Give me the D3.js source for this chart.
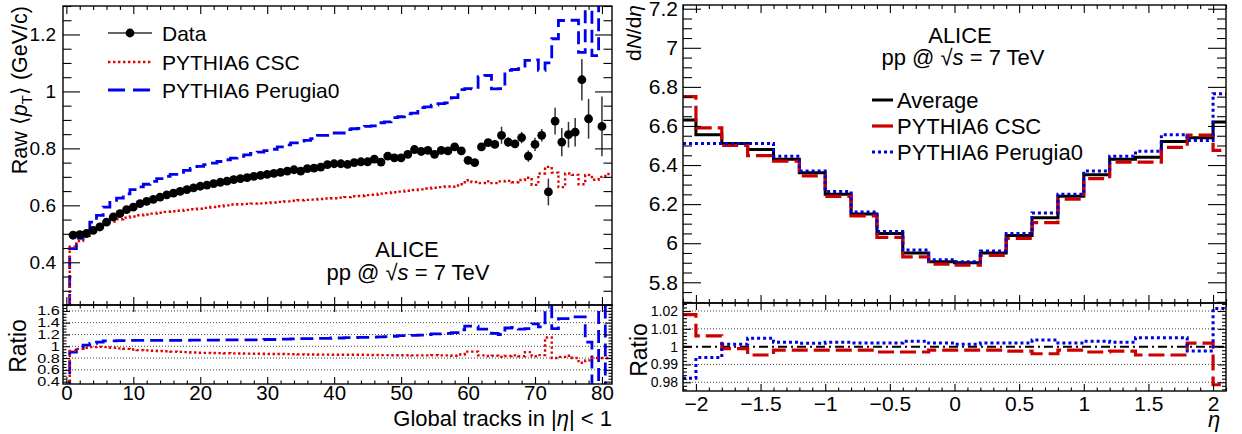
<!DOCTYPE html>
<html><head><meta charset="utf-8">
<script src="https://cdn.jsdelivr.net/npm/d3@7"></script>
<style>body{margin:0;background:#fff}svg{display:block}</style>
</head><body><svg id="c" width="1242" height="434"></svg>
<script>
// ---------------- LEFT: raw <pT> vs multiplicity ----------------
const dataN = [1,2,3,4,5,6,7,8,9,10,11,12,13,14,15,16,17,18,19,20,21,22,23,24,25,26,27,28,29,30,31,32,33,34,35,36,37,38,39,40,41,42,43,44,45,46,47,48,49,50,51,52,53,54,55,56,57,58,59,60,61,62,63,64,65,66,67,68,69,70,71,72,73,74,75,76,77,78,79,80];
const dataMean = [0.495,0.497,0.501,0.512,0.524,0.541,0.559,0.571,0.585,0.594,
 0.606,0.614,0.621,0.629,0.637,0.643,0.649,0.655,0.661,0.667,
 0.671,0.676,0.681,0.685,0.690,0.694,0.697,0.702,0.705,0.709,
 0.712,0.716,0.720,0.725,0.720,0.729,0.731,0.734,0.743,0.746,
 0.746,0.744,0.750,0.753,0.753,0.762,0.752,0.773,0.767,0.767,
 0.779,0.796,0.789,0.793,0.779,0.793,0.791,0.805,0.791,0.758,
 0.750,0.805,0.820,0.814,0.846,0.822,0.816,0.838,0.773,0.814,
 0.846,0.647,0.896,0.822,0.848,0.857,1.041,0.904,null,0.877];
const dataErr = [0.002,0.002,0.002,0.002,0.002,0.002,0.002,0.002,0.002,0.002,
 0.002,0.002,0.002,0.002,0.002,0.002,0.002,0.002,0.002,0.002,
 0.002,0.002,0.002,0.002,0.002,0.002,0.002,0.002,0.002,0.002,
 0.003,0.003,0.003,0.003,0.003,0.003,0.003,0.003,0.003,0.003,
 0.004,0.004,0.004,0.004,0.004,0.004,0.004,0.004,0.004,0.004,
 0.005,0.005,0.005,0.006,0.006,0.006,0.007,0.008,0.008,0.008,
 0.009,0.010,0.010,0.012,0.030,0.017,0.012,0.020,0.020,0.023,
 0.022,0.047,0.047,0.050,0.045,0.050,0.073,0.070,null,0.105];
const modelBins = [0,1,2,3,4,5,6,7,8,9,10,11,12,13,14,15,16,17,18,19,20,21,22,23,24,25,26,27,28,29,30,31,32,33,34,35,36,37,38,39,40,41,42,43,44,45,46,47,48,49,50,51,52,53,54,55,56,57,58,59,60,61,62,63,64,65,66,67,68,69,70,71,72,73,74,75,76,77,78,79,80,81];
const perugiaMean = [0,
 0.448,0.484,0.512,0.541,0.565,0.594,0.610,0.625,0.640,0.655,
 0.665,0.674,0.684,0.694,0.702,0.709,0.716,0.723,0.730,0.737,
 0.743,0.748,0.754,0.760,0.766,0.772,0.777,0.782,0.787,0.792,
 0.797,0.805,0.812,0.819,0.826,0.828,0.834,0.846,0.846,0.854,
 0.854,0.866,0.869,0.870,0.877,0.879,0.890,0.893,0.908,0.911,
 0.921,0.924,0.943,0.946,0.952,0.957,0.960,0.978,1.006,1.010,
 1.009,1.052,1.056,1.009,1.010,1.074,1.077,1.080,1.109,1.111,
 1.074,1.100,1.185,1.249,1.250,1.250,1.137,1.350,1.126,1.350,1.350];
const cscMean = [0,
 0.455,0.475,0.493,0.508,0.520,0.532,0.543,0.551,0.557,0.561,
 0.565,0.568,0.571,0.574,0.577,0.579,0.581,0.584,0.586,0.588,
 0.591,0.594,0.597,0.600,0.603,0.604,0.605,0.606,0.607,0.608,
 0.610,0.612,0.614,0.616,0.618,0.619,0.620,0.622,0.624,0.625,
 0.627,0.629,0.632,0.633,0.636,0.637,0.641,0.643,0.646,0.648,
 0.651,0.654,0.656,0.659,0.662,0.664,0.666,0.665,0.674,0.688,
 0.682,0.678,0.684,0.678,0.684,0.686,0.681,0.689,0.697,0.672,
 0.712,0.735,0.715,0.664,0.712,0.707,0.674,0.707,0.690,0.700,0.710];
const perugiaRatio = [0,
 0.90,0.97,1.02,1.05,1.07,1.09,1.09,1.095,1.095,1.10,
 1.10,1.10,1.10,1.10,1.10,1.10,1.10,1.10,1.105,1.105,
 1.105,1.105,1.105,1.11,1.11,1.11,1.11,1.11,1.11,1.115,
 1.115,1.12,1.12,1.125,1.13,1.13,1.13,1.135,1.135,1.14,
 1.14,1.145,1.145,1.15,1.15,1.155,1.16,1.165,1.17,1.18,
 1.18,1.185,1.19,1.20,1.21,1.21,1.22,1.23,1.28,1.34,
 1.34,1.29,1.29,1.22,1.20,1.31,1.32,1.29,1.30,1.38,
 1.33,1.80,1.30,1.47,1.47,1.50,1.50,1.07,0.20,1.80,0.20];
const cscRatio = [0,
 0.92,0.955,0.975,0.985,0.99,0.985,0.975,0.965,0.955,0.945,
 0.935,0.93,0.925,0.92,0.915,0.91,0.905,0.90,0.895,0.89,
 0.888,0.886,0.884,0.882,0.88,0.878,0.876,0.874,0.872,0.87,
 0.87,0.868,0.866,0.864,0.862,0.86,0.86,0.858,0.858,0.856,
 0.856,0.856,0.855,0.855,0.854,0.852,0.85,0.85,0.848,0.848,
 0.848,0.846,0.846,0.845,0.85,0.846,0.845,0.84,0.86,0.91,
 0.91,0.845,0.835,0.84,0.82,0.835,0.845,0.83,0.90,0.83,
 0.85,1.15,0.80,0.82,0.84,0.80,0.72,0.76,0.80,0.80,0.80];
const leftYTicks = [0.4,0.6,0.8,1.0,1.2];
const leftYLabels = ["0.4","0.6","0.8","1","1.2"];
const leftRTicks = [0.4,0.6,0.8,1.0,1.2,1.4,1.6];
const leftRLabels = ["0.4","0.6","0.8","1","1.2","1.4","1.6"];
const leftXTicks = [0,10,20,30,40,50,60,70,80];
const leftXLabels = ["0","10","20","30","40","50","60","70","80"];
const leftLegend = ["Data","PYTHIA6 CSC","PYTHIA6 Perugia0"];

// ---------------- RIGHT: dN/deta ----------------
const etaEdges = [-2.1,-2.0,-1.8,-1.6,-1.4,-1.2,-1.0,-0.8,-0.6,-0.4,-0.2,0,0.2,0.4,0.6,0.8,1.0,1.2,1.4,1.6,1.8,2.0,2.1];
const avgVals = [6.63,6.555,6.51,6.48,6.43,6.36,6.25,6.15,6.05,5.95,5.905,5.90,5.95,6.04,6.13,6.24,6.35,6.43,6.44,6.52,6.54,6.62];
const cscVals = [6.75,6.59,6.50,6.448,6.42,6.345,6.24,6.14,6.03,5.93,5.893,5.888,5.938,6.025,6.105,6.225,6.33,6.415,6.415,6.49,6.553,6.475];
const perVals = [6.51,6.51,6.51,6.51,6.445,6.37,6.265,6.16,6.06,5.965,5.915,5.905,5.96,6.05,6.155,6.25,6.37,6.445,6.47,6.555,6.525,6.765];
const cscRatioEta = [1.018,1.0061,0.9989,0.9953,0.998,0.998,0.998,0.998,0.997,0.997,0.998,0.998,0.998,0.9975,0.996,0.998,0.997,0.9975,0.9953,0.9953,1.002,0.9786];
const perRatioEta = [0.9823,0.9939,1.0013,1.0047,1.0024,1.0019,1.0024,1.002,1.002,1.003,1.002,1.0013,1.002,1.002,1.0037,1.002,1.003,1.0024,1.005,1.005,0.9976,1.0214];
const rightYTicks = [5.8,6.0,6.2,6.4,6.6,6.8,7.0,7.2];
const rightYLabels = ["5.8","6","6.2","6.4","6.6","6.8","7","7.2"];
const rightRTicks = [0.98,0.99,1.0,1.01,1.02];
const rightRLabels = ["0.98","0.99","1","1.01","1.02"];
const rightXTicks = [-2,-1.5,-1,-0.5,0,0.5,1,1.5,2];
const rightXLabels = ["\u22122","\u22121.5","\u22121","\u22120.5","0","0.5","1","1.5","2"];
const rightLegend = ["Average","PYTHIA6 CSC","PYTHIA6 Perugia0"];

// ---------------- drawing ----------------
const FONT = '"Liberation Sans", Arial, Helvetica, sans-serif';
const svg = d3.select("#c");
const RED_L = "#e00000", BLUE = "#0000ee", RED_R = "#cc0000";

function clip(id, x, y) {
  const [x0,x1] = x.range(), [y0,y1] = y.range();
  svg.append("clipPath").attr("id", id).append("rect")
    .attr("x", x0).attr("y", y1).attr("width", x1-x0).attr("height", y0-y1);
  return `url(#${id})`;
}
function axesBox(x, y, o) {
  const g = svg.append("g");
  const [xa, xb] = x.range(), [ya, yb] = y.range();
  const mk = (axis, tr) => {
    const a = g.append("g").attr("transform", tr).call(axis);
    a.select(".domain").remove();
    a.selectAll("line").attr("stroke", "#000").attr("stroke-width", 1.1);
    a.selectAll("text").attr("font-size", o.fs).attr("fill", "#000").attr("font-family", FONT);
    return a;
  };
  const lab = (vals, labs) => d => labs[vals.indexOf(d)];
  const [d0, d1] = y.domain();
  const yMin = d3.range(Math.ceil(d0/o.yStep - 1e-6)*o.yStep, d1 + 1e-9, o.yStep).filter(v => !o.yMaj.some(m => Math.abs(m - v) < 1e-6));
  const [e0, e1] = x.domain();
  const xMin = d3.range(Math.ceil(e0/o.xStep - 1e-6)*o.xStep, e1 + 1e-9, o.xStep).filter(v => !o.xMaj.some(m => Math.abs(m - v) < 1e-6));
  const ly = mk(d3.axisLeft(y).tickValues(o.yMaj).tickSize(-o.yL).tickPadding(o.yPad).tickFormat(lab(o.yMaj, o.yLab)), `translate(${xa},0)`);
  if (o.ySX) ly.selectAll("text").attr("transform", `scale(${o.ySX},1)`);
  mk(d3.axisLeft(y).tickValues(yMin).tickSize(-o.yL/2).tickFormat(""), `translate(${xa},0)`);
  mk(d3.axisRight(y).tickValues(o.yMaj).tickSize(-o.yL).tickFormat(""), `translate(${xb},0)`);
  mk(d3.axisRight(y).tickValues(yMin).tickSize(-o.yL/2).tickFormat(""), `translate(${xb},0)`);
  const bx = mk(d3.axisBottom(x).tickValues(o.xMaj).tickSize(-o.xL).tickPadding(o.xPad).tickFormat(o.xLab ? lab(o.xMaj, o.xLab) : ""), `translate(0,${ya})`);
  if (o.xfs) bx.selectAll("text").attr("font-size", o.xfs);
  mk(d3.axisBottom(x).tickValues(xMin).tickSize(-o.xL/2).tickFormat(""), `translate(0,${ya})`);
  mk(d3.axisTop(x).tickValues(o.xMaj).tickSize(-o.xL).tickFormat(""), `translate(0,${yb})`);
  mk(d3.axisTop(x).tickValues(xMin).tickSize(-o.xL/2).tickFormat(""), `translate(0,${yb})`);
  g.append("rect").attr("x", xa).attr("y", yb).attr("width", xb-xa).attr("height", ya-yb)
    .attr("fill", "none").attr("stroke", "#000").attr("stroke-width", 1.4);
}
function stepPts(edges, vals) {
  const p = vals.map((v, i) => [edges[i], v]);
  p.push([edges[vals.length], vals[vals.length-1]]);
  return p;
}
function stepPath(g, x, y, edges, vals, color, width, dash, cp) {
  const line = d3.line().x(d => x(d[0])).y(d => y(d[1])).curve(d3.curveStepAfter);
  g.append("path").attr("d", line(stepPts(edges, vals))).attr("fill", "none")
    .attr("stroke", color).attr("stroke-width", width).attr("stroke-dasharray", dash)
    .attr("clip-path", cp);
}
function txt(x, y, s, size, anchor) {
  return svg.append("text").attr("x", x).attr("y", y).attr("font-family", FONT)
    .attr("font-size", size).attr("text-anchor", anchor || "start").attr("fill", "#000").text(s);
}

// ===== Left panel =====
const xL = d3.scaleLinear().domain([-0.5, 81.5]).range([63, 612]);
const yL = d3.scaleLinear().domain([0.25, 1.3]).range([305, 6]);
const yLR = d3.scaleLinear().domain([0.36, 1.7]).range([384, 305]);
const mEdges = modelBins.map(b => b - 0.5).concat([modelBins[modelBins.length-1] + 0.5]);

const gL = svg.append("g");
const cpL = clip("cpL", xL, yL);
stepPath(gL, xL, yL, mEdges, perugiaMean, BLUE, 2.8, "13,6", cpL);
stepPath(gL, xL, yL, mEdges, cscMean, RED_L, 2.4, "2.4,2.6", cpL);
const pts = dataN.map((n, i) => ({n, v: dataMean[i], e: dataErr[i]})).filter(d => d.v != null);
gL.append("g").attr("clip-path", cpL).selectAll("line").data(pts).join("line")
  .attr("x1", d => xL(d.n)).attr("x2", d => xL(d.n))
  .attr("y1", d => yL(d.v - d.e)).attr("y2", d => yL(d.v + d.e))
  .attr("stroke", "#333").attr("stroke-width", 1.5);
gL.append("g").selectAll("circle").data(pts).join("circle")
  .attr("cx", d => xL(d.n)).attr("cy", d => yL(d.v)).attr("r", 4.4).attr("fill", "#000");
axesBox(xL, yL, {yMaj: leftYTicks, yLab: leftYLabels, yStep: 0.05, yL: 17, yPad: 7, fs: 19,
  xMaj: leftXTicks, xLab: null, xStep: 2, xL: 8, xPad: 0});

// left ratio
const gLR = svg.append("g");
const cpLR = clip("cpLR", xL, yLR);
gLR.selectAll("line").data(leftRTicks.slice(1)).join("line")
  .attr("x1", 63).attr("x2", 612).attr("y1", d => yLR(d)).attr("y2", d => yLR(d))
  .attr("stroke", "#444").attr("stroke-width", 1).attr("stroke-dasharray", "1,2");
stepPath(gLR, xL, yLR, mEdges, perugiaRatio, BLUE, 2.8, "13,6", cpLR);
stepPath(gLR, xL, yLR, mEdges, cscRatio, RED_L, 2.4, "2.4,2.6", cpLR);
axesBox(xL, yLR, {yMaj: leftRTicks, yLab: leftRLabels, yStep: 0.05, yL: 7, yPad: 2.5, fs: 12.5, ySX: 1.3,
  xMaj: leftXTicks, xLab: leftXLabels, xStep: 2, xL: 7, xPad: 1.5, xfs: 20.5});

// left texts
const tyL = svg.append("text").attr("transform", "translate(27,6) rotate(-90)")
  .attr("text-anchor", "end").attr("font-family", FONT).attr("font-size", 21.5).attr("fill", "#000");
tyL.append("tspan").text("Raw \u27e8");
tyL.append("tspan").attr("font-style", "italic").text("p");
tyL.append("tspan").attr("font-size", 15).attr("dy", 5).text("T");
tyL.append("tspan").attr("dy", -5).text("\u27e9 (GeV/c)");
svg.append("text").attr("transform", "translate(26,346) rotate(-90)").attr("text-anchor", "middle")
  .attr("font-family", FONT).attr("font-size", 23).attr("fill", "#000").text("Ratio");
const xtL = txt(612, 426, "", 22, "end");
xtL.append("tspan").text("Global tracks in |");
xtL.append("tspan").attr("font-style", "italic").text("\u03b7");
xtL.append("tspan").text("| < 1");
txt(407, 257, "ALICE", 22, "middle");
function ppText(x, y, size) {
  const t = txt(x, y, "", size, "middle");
  t.append("tspan").text("pp @ \u221a");
  t.append("tspan").attr("font-style", "italic").text("s");
  t.append("tspan").text(" = 7 TeV");
}
ppText(408, 280, 22);

// left legend
const lgY = [33, 62, 90];
svg.append("line").attr("x1", 108).attr("x2", 152).attr("y1", lgY[0]).attr("y2", lgY[0]).attr("stroke", "#333").attr("stroke-width", 1.5);
svg.append("circle").attr("cx", 130).attr("cy", lgY[0]).attr("r", 4.4).attr("fill", "#000");
svg.append("line").attr("x1", 108).attr("x2", 152).attr("y1", lgY[1]).attr("y2", lgY[1]).attr("stroke", RED_L).attr("stroke-width", 2.4).attr("stroke-dasharray", "2.4,2.6");
svg.append("line").attr("x1", 108).attr("x2", 152).attr("y1", lgY[2]).attr("y2", lgY[2]).attr("stroke", BLUE).attr("stroke-width", 2.8).attr("stroke-dasharray", "17,8");
leftLegend.forEach((s, i) => txt(162, lgY[i] + 7.5, s, 21));

// ===== Right panel =====
const xR = d3.scaleLinear().domain([-2.1, 2.1]).range([683, 1226]);
const yR = d3.scaleLinear().domain([5.694, 7.219]).range([303, 5]);
const yRR = d3.scaleLinear().domain([0.9751, 1.0245]).range([391, 303]);
const gR = svg.append("g");
const cpR = clip("cpR", xR, yR);
stepPath(gR, xR, yR, etaEdges, avgVals, "#000", 3, null, cpR);
stepPath(gR, xR, yR, etaEdges, cscVals, RED_R, 3.2, "16,6", cpR);
stepPath(gR, xR, yR, etaEdges, perVals, "#0000dd", 3, "3,3", cpR);
axesBox(xR, yR, {yMaj: rightYTicks, yLab: rightYLabels, yStep: 0.05, yL: 18, yPad: 5, fs: 21,
  xMaj: rightXTicks, xLab: null, xStep: 0.1, xL: 8, xPad: 0});

const gRR = svg.append("g");
const cpRR = clip("cpRR", xR, yRR);
gRR.selectAll("line.g").data(rightRTicks.filter(v => v !== 1.0)).join("line")
  .attr("x1", 683).attr("x2", 1226).attr("y1", d => yRR(d)).attr("y2", d => yRR(d))
  .attr("stroke", "#444").attr("stroke-width", 1).attr("stroke-dasharray", "1,2");
gRR.append("line").attr("x1", 683).attr("x2", 1226).attr("y1", yRR(1)).attr("y2", yRR(1))
  .attr("stroke", "#000").attr("stroke-width", 2).attr("stroke-dasharray", "9,4,2,4");
stepPath(gRR, xR, yRR, etaEdges, cscRatioEta, RED_R, 3.2, "16,6", cpRR);
stepPath(gRR, xR, yRR, etaEdges, perRatioEta, "#0000dd", 3, "3,3", cpRR);
axesBox(xR, yRR, {yMaj: rightRTicks, yLab: rightRLabels, yStep: 0.002, yL: 8, yPad: 5, fs: 14,
  xMaj: rightXTicks, xLab: rightXLabels, xStep: 0.1, xL: 7, xPad: 5, xfs: 21});

// right texts
const tyR = svg.append("text").attr("transform", "translate(641,5) rotate(-90)")
  .attr("text-anchor", "end").attr("font-family", FONT).attr("font-size", 21).attr("fill", "#000");
tyR.append("tspan").text("d");
tyR.append("tspan").attr("font-style", "italic").text("N");
tyR.append("tspan").text("/d");
tyR.append("tspan").attr("font-style", "italic").text("\u03b7");
svg.append("text").attr("transform", "translate(647,350) rotate(-90)").attr("text-anchor", "middle")
  .attr("font-family", FONT).attr("font-size", 23).attr("fill", "#000").text("Ratio");
txt(1214, 427, "\u03b7", 22, "middle").attr("font-style", "italic");
txt(960, 43, "ALICE", 22, "middle");
ppText(963, 65, 22);
const rgY = [100, 126, 152];
svg.append("line").attr("x1", 872).attr("x2", 893).attr("y1", rgY[0]).attr("y2", rgY[0]).attr("stroke", "#000").attr("stroke-width", 3);
svg.append("line").attr("x1", 872).attr("x2", 893).attr("y1", rgY[1]).attr("y2", rgY[1]).attr("stroke", RED_R).attr("stroke-width", 3.2);
svg.append("line").attr("x1", 872).attr("x2", 893).attr("y1", rgY[2]).attr("y2", rgY[2]).attr("stroke", "#0000dd").attr("stroke-width", 3).attr("stroke-dasharray", "3,3");
rightLegend.forEach((s, i) => txt(897, rgY[i] + 8, s, 22));
</script></body></html>
